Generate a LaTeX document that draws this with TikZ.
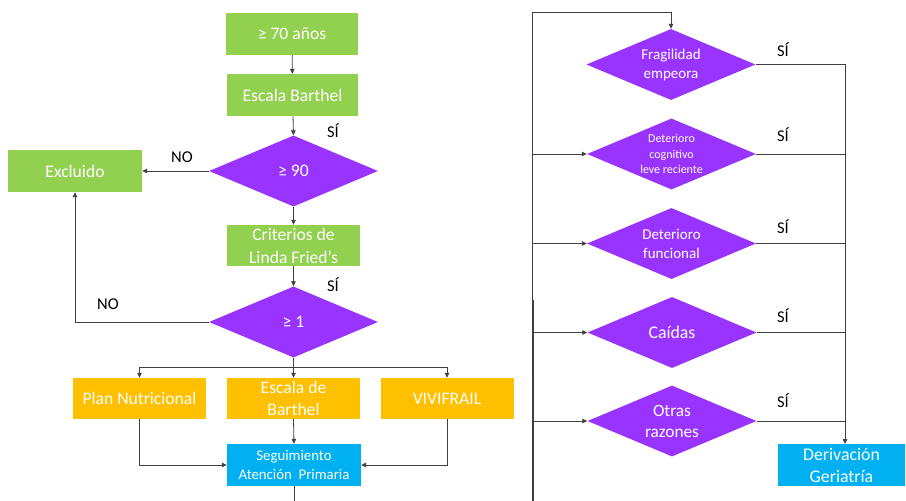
\documentclass[tikz,border=0pt]{standalone}
\usepackage{fontspec}
\setmainfont{Carlito}
\usetikzlibrary{shapes.geometric,arrows.meta}
\definecolor{cgreen}{HTML}{92D050}
\definecolor{cpurple}{HTML}{9933FF}
\definecolor{corange}{HTML}{FFC000}
\definecolor{cblue}{HTML}{00B0F0}
\definecolor{cline}{HTML}{404040}
\begin{document}
\begin{tikzpicture}[x=1pt,y=-1pt,
  base/.style={inner sep=0pt, align=center, text=white, font=\fontsize{17.6}{21.5}\selectfont},
  gbox/.style={base, rectangle, fill=cgreen, minimum width=132pt, minimum height=42pt},
  obox/.style={base, rectangle, fill=corange, minimum width=133pt, minimum height=41pt},
  bbox/.style={base, rectangle, fill=cblue, minimum width=134pt, minimum height=42pt},
  dia/.style={base, diamond, aspect=2.4, fill=cpurple, minimum width=169pt, minimum height=71pt},
  lab/.style={inner sep=0pt, text=black, font=\fontsize{16.5}{19}\selectfont},
  conn/.style={draw=cline, line width=0.8pt},
  arr/.style={conn, -{Triangle[length=5pt,width=4.5pt]}}
]
\useasboundingbox (0,0) rectangle (906,501);

% ---------- left column ----------
\node[gbox] (a1) at (292,34) {≥ 70 años};
\node[gbox, minimum width=131pt] (a2) at (292.5,95) {Escala Barthel};
\node[dia] (d1) at (293.5,171) {≥ 90};
\node[gbox, minimum width=134pt] (ex) at (75,171) {Excluido};
\node[gbox, minimum width=133pt, minimum height=41pt, font=\fontsize{17.6}{23}\selectfont] (cr) at (293.5,245.5) {Criterios de\\Linda Fried’s};
\node[dia] (d2) at (293.5,322) {≥ 1};
\coordinate (br) at (293.5,367);
\node[obox] (pl) at (139.5,398.5) {Plan Nutricional};
\node[obox] (eb) at (293.5,398.5) {Escala de\\Barthel};
\node[obox] (vv) at (447,398.5) {VIVIFRAIL};
\node[bbox, font=\fontsize{14.8}{19}\selectfont] (sg) at (294,465) {Seguimiento\\Atención~~Primaria};
\coordinate (sgb) at (294,501);

\draw[arr] (a1) -- (a2);
\draw[arr] (a2) -- (d1.north);
\draw[arr] (d1.west) -- (ex.east);
\draw[arr] (d1.south) -- (cr.north);
\draw[arr] (cr) -- (d2.north);
\draw[arr] (d2.west) -| (ex.south);
\draw[conn] (d2.south) -- (br);
\draw[arr] (br) -| (pl.north);
\draw[arr] (br) -| (vv.north);
\draw[arr] (br) -- (eb.north);
\draw[arr] (pl.south) |- (sg.west);
\draw[arr] (vv.south) |- (sg.east);
\draw[arr] (eb.south) -- (sg.north);
\draw[conn] (sg.south) -- (sgb);

\node[lab] (s1) at (333,131) {SÍ};
\node[lab] (n1) at (182,157) {NO};
\node[lab] (s2) at (333,285) {SÍ};
\node[lab] (n2) at (108,304) {NO};

% ---------- right column ----------
\node[dia, font=\fontsize{15}{19}\selectfont] (f1) at (671,64.5) {Fragilidad\\empeora};
\node[dia, font=\fontsize{12}{15.5}\selectfont] (f2) at (671.5,154) {Deterioro\\cognitivo\\leve reciente};
\node[dia, font=\fontsize{15}{19}\selectfont] (f3) at (671.5,243.5) {Deterioro\\funcional};
\node[dia, font=\fontsize{17.8}{21}\selectfont] (f4) at (672,332.5) {Caídas};
\node[dia, font=\fontsize{17.3}{21}\selectfont] (f5) at (672,421) {Otras\\razones};
\node[base, rectangle, fill=cblue, minimum width=127pt, minimum height=42pt, font=\fontsize{17.8}{22}\selectfont] (dg) at (841.5,465) {Derivación\\Geriatría};

\coordinate (lt) at (532,12);
\coordinate (lb) at (532,501);
\coordinate (lt2) at (533.5,300);
\coordinate (lb2) at (533.5,501);
\coordinate (dtop) at (845,444);

\draw[conn] (lb) -- (lt);
\draw[conn] (lb2) -- (lt2);
\draw[arr] (lt) -| (f1.north);
\draw[arr] (f2.west -| lt) -- (f2.west);
\draw[arr] (f3.west -| lt) -- (f3.west);
\draw[arr] (f4.west -| lt) -- (f4.west);
\draw[arr] (f5.west -| lt) -- (f5.west);
\draw[arr] (f1.east) -| (dtop);
\draw[conn] (f2.east) -- (f2.east -| dtop);
\draw[conn] (f3.east) -- (f3.east -| dtop);
\draw[conn] (f4.east) -- (f4.east -| dtop);
\draw[conn] (f5.east) -- (f5.east -| dtop);

\node[lab] (r1) at (783,50) {SÍ};
\node[lab] (r2) at (783,135) {SÍ};
\node[lab] (r3) at (783,227) {SÍ};
\node[lab] (r4) at (783,316) {SÍ};
\node[lab] (r5) at (783,401) {SÍ};
\end{tikzpicture}
\end{document}
